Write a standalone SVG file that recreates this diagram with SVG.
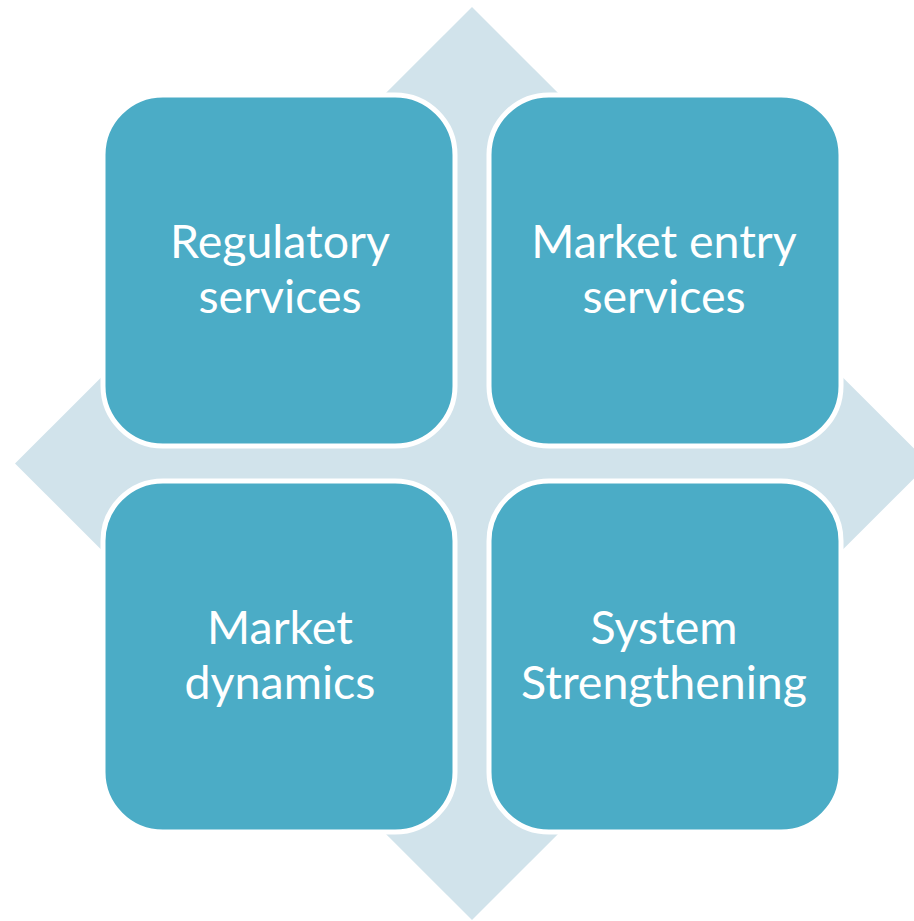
<svg xmlns="http://www.w3.org/2000/svg" width="914" height="921" viewBox="0 0 914 921">
  <style>
    .box { fill: #4BACC6; stroke: #FFFFFF; stroke-width: 5; }
    .lbl { fill: #FFFFFF; font-family: Lato, "Open Sans", "Liberation Sans", sans-serif; font-size: 46.5px; text-anchor: middle; }
  </style>
  <rect width="914" height="921" fill="#FFFFFF"/>
  <g id="background">
    <polygon points="472,7 929,463.5 472,920 15,463.5" fill="#D1E3EB"/>
  </g>
  <g id="connectors"></g>
  <g id="node-regulatory">
    <rect class="box" x="103" y="95" width="352" height="351" rx="60" ry="60"/>
    <text class="lbl" x="280" y="258">Regulatory</text>
    <text class="lbl" x="280" y="313">services</text>
  </g>
  <g id="node-market-entry">
    <rect class="box" x="489" y="95" width="352" height="351" rx="60" ry="60"/>
    <text class="lbl" x="664" y="258">Market entry</text>
    <text class="lbl" x="664" y="313">services</text>
  </g>
  <g id="node-market-dynamics">
    <rect class="box" x="103" y="481" width="352" height="351" rx="60" ry="60"/>
    <text class="lbl" x="280" y="644">Market</text>
    <text class="lbl" x="280" y="699">dynamics</text>
  </g>
  <g id="node-system">
    <rect class="box" x="489" y="481" width="352" height="351" rx="60" ry="60"/>
    <text class="lbl" x="664" y="644">System</text>
    <text class="lbl" x="664" y="699">Strengthening</text>
  </g>
</svg>
